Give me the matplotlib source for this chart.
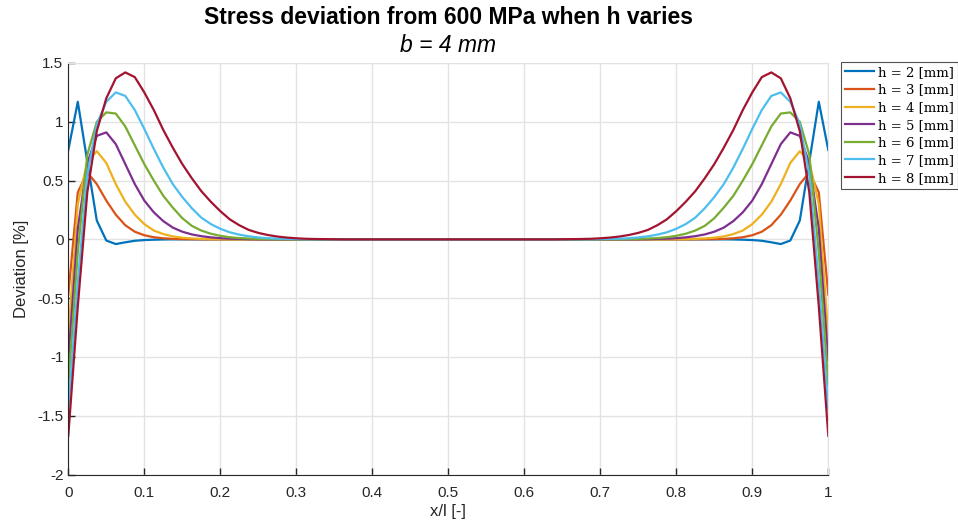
import matplotlib
matplotlib.use('Agg')
import matplotlib.pyplot as plt
import numpy as np

plt.rcParams['axes.unicode_minus'] = False
plt.rcParams['font.family'] = ['Liberation Sans', 'DejaVu Sans']

# x positions (81 points, step 0.0125)
x_pos = np.linspace(0, 1, 81)

labels = ['h = 2 [mm]', 'h = 3 [mm]', 'h = 4 [mm]', 'h = 5 [mm]',
          'h = 6 [mm]', 'h = 7 [mm]', 'h = 8 [mm]']
colors = ['#0072BD', '#D95319', '#EDB120', '#7E2F8E', '#77AC30', '#4DBEEE', '#A2142F']

dev_h2 = [0.76, 1.17, 0.66, 0.16, -0.01, -0.04, -0.025, -0.012, -0.006, -0.003,
          -0.001, 0, 0, 0, 0, 0, 0, 0, 0, 0,
          0, 0, 0, 0, 0, 0, 0, 0, 0, 0,
          0, 0, 0, 0, 0, 0, 0, 0, 0, 0,
          0,
          0, 0, 0, 0, 0, 0, 0, 0, 0, 0,
          0, 0, 0, 0, 0, 0, 0, 0, 0, 0,
          0, 0, 0, 0, 0, 0, 0, 0, 0, -0.001,
          -0.003, -0.006, -0.012, -0.025, -0.04, -0.01, 0.16, 0.66, 1.17, 0.76]

dev_h3 = [-0.47, 0.40, 0.57, 0.47, 0.33, 0.21, 0.12, 0.065, 0.035, 0.018,
          0.009, 0.004, 0.002, 0.001, 0, 0, 0, 0, 0, 0,
          0, 0, 0, 0, 0, 0, 0, 0, 0, 0,
          0, 0, 0, 0, 0, 0, 0, 0, 0, 0,
          0,
          0, 0, 0, 0, 0, 0, 0, 0, 0, 0,
          0, 0, 0, 0, 0, 0, 0, 0, 0, 0,
          0, 0, 0, 0, 0, 0, 0.001, 0.002, 0.004, 0.009,
          0.018, 0.035, 0.065, 0.12, 0.21, 0.33, 0.47, 0.57, 0.40, -0.47]

dev_h4 = [-0.82, 0.30, 0.66, 0.75, 0.65, 0.47, 0.32, 0.21, 0.13, 0.075,
          0.045, 0.025, 0.014, 0.008, 0.004, 0.002, 0.001, 0, 0, 0,
          0, 0, 0, 0, 0, 0, 0, 0, 0, 0,
          0, 0, 0, 0, 0, 0, 0, 0, 0, 0,
          0,
          0, 0, 0, 0, 0, 0, 0, 0, 0, 0,
          0, 0, 0, 0, 0, 0, 0, 0, 0, 0,
          0, 0, 0, 0.001, 0.002, 0.004, 0.008, 0.014, 0.025, 0.045,
          0.075, 0.13, 0.21, 0.32, 0.47, 0.65, 0.75, 0.66, 0.30, -0.82]

dev_h5 = [-1.03, 0.09, 0.65, 0.88, 0.91, 0.81, 0.64, 0.47, 0.33, 0.23,
          0.155, 0.10, 0.065, 0.042, 0.027, 0.017, 0.010, 0.006, 0.004, 0.002,
          0.001, 0, 0, 0, 0, 0, 0, 0, 0, 0,
          0, 0, 0, 0, 0, 0, 0, 0, 0, 0,
          0,
          0, 0, 0, 0, 0, 0, 0, 0, 0, 0,
          0, 0, 0, 0, 0, 0, 0, 0, 0, 0.001,
          0.002, 0.004, 0.006, 0.010, 0.017, 0.027, 0.042, 0.065, 0.10, 0.155,
          0.23, 0.33, 0.47, 0.64, 0.81, 0.91, 0.88, 0.65, 0.09, -1.03]

dev_h6 = [-1.24, -0.11, 0.72, 1.00, 1.08, 1.07, 0.96, 0.80, 0.64, 0.50,
          0.37, 0.27, 0.18, 0.115, 0.075, 0.048, 0.030, 0.018, 0.011, 0.007,
          0.004, 0.002, 0.001, 0, 0, 0, 0, 0, 0, 0,
          0, 0, 0, 0, 0, 0, 0, 0, 0, 0,
          0,
          0, 0, 0, 0, 0, 0, 0, 0, 0, 0,
          0, 0, 0, 0, 0, 0, 0, 0.001, 0.002, 0.004,
          0.007, 0.011, 0.018, 0.030, 0.048, 0.075, 0.115, 0.18, 0.27, 0.37,
          0.50, 0.64, 0.80, 0.96, 1.07, 1.08, 1.00, 0.72, -0.11, -1.24]

dev_h7 = [-1.45, -0.36, 0.55, 0.98, 1.17, 1.25, 1.22, 1.10, 0.94, 0.77,
          0.61, 0.47, 0.36, 0.265, 0.185, 0.13, 0.09, 0.06, 0.04, 0.026,
          0.016, 0.010, 0.006, 0.004, 0.002, 0.001, 0, 0, 0, 0,
          0, 0, 0, 0, 0, 0, 0, 0, 0, 0,
          0,
          0, 0, 0, 0, 0, 0, 0, 0, 0, 0,
          0, 0, 0, 0, 0.001, 0.002, 0.004, 0.006, 0.010, 0.016,
          0.026, 0.04, 0.06, 0.09, 0.13, 0.185, 0.265, 0.36, 0.47, 0.61,
          0.77, 0.94, 1.10, 1.22, 1.25, 1.17, 0.98, 0.55, -0.36, -1.45]

dev_h8 = [-1.67, -0.57, 0.40, 0.92, 1.20, 1.37, 1.42, 1.38, 1.25, 1.10,
          0.93, 0.78, 0.64, 0.52, 0.41, 0.32, 0.24, 0.17, 0.12, 0.08,
          0.055, 0.037, 0.024, 0.015, 0.009, 0.005, 0.003, 0.002, 0.001, 0,
          0, 0, 0, 0, 0, 0, 0, 0, 0, 0,
          0,
          0, 0, 0, 0, 0, 0, 0, 0, 0, 0,
          0, 0.001, 0.002, 0.003, 0.005, 0.009, 0.015, 0.024, 0.037, 0.055,
          0.08, 0.12, 0.17, 0.24, 0.32, 0.41, 0.52, 0.64, 0.78, 0.93,
          1.10, 1.25, 1.38, 1.42, 1.37, 1.20, 0.92, 0.40, -0.57, -1.67]

series = [dev_h2, dev_h3, dev_h4, dev_h5, dev_h6, dev_h7, dev_h8]

x_ticks = [0, 0.1, 0.2, 0.3, 0.4, 0.5, 0.6, 0.7, 0.8, 0.9, 1]
x_ticklabels = ['0', '0.1', '0.2', '0.3', '0.4', '0.5', '0.6', '0.7', '0.8', '0.9', '1']
y_ticks = [-2, -1.5, -1, -0.5, 0, 0.5, 1, 1.5]
y_ticklabels = ['-2', '-1.5', '-1', '-0.5', '0', '0.5', '1', '1.5']

fig = plt.figure(figsize=(9.58, 5.29), dpi=100)
ax = fig.add_axes([68.3 / 958, 1 - 474.5 / 529, 760 / 958, 411.5 / 529])

lines = []
for vals, col, lab in zip(series, colors, labels):
    ln, = ax.plot(x_pos, vals, color=col, linewidth=1.6, label=lab)
    lines.append(ln)

ax.set_xlim(0, 1)
ax.set_ylim(-2, 1.5)
ax.set_xticks(x_ticks)
ax.set_xticklabels(x_ticklabels)
ax.set_yticks(y_ticks)
ax.set_yticklabels(y_ticklabels)
ax.tick_params(direction='in', length=5, width=1, labelsize=11, colors='#262626')
ax.tick_params(axis='x', pad=8)
ax.grid(True, color='#e3e3e3', linewidth=1)
ax.set_axisbelow(True)
for s in ['top', 'right']:
    ax.spines[s].set_color('#e3e3e3')
for s in ['left', 'bottom']:
    ax.spines[s].set_color('#262626')

ax.set_xlabel('x/l [-]', fontsize=12, color='#262626', labelpad=3)
ax.set_ylabel('Deviation [%]', fontsize=12, color='#262626', labelpad=6)

fig.text(448 / 958, 1 - 17 / 529, 'Stress deviation from 600 MPa when h varies',
         ha='center', va='center', fontsize=16.5, fontweight='bold')
fig.text(448 / 958, 1 - 45 / 529, 'b = 4 mm', ha='center', va='center',
         fontsize=16.5, style='italic')

leg = fig.legend(handles=lines, loc='upper left',
                 bbox_to_anchor=(841 / 958, 1 - 62 / 529),
                 prop={'family': 'DejaVu Serif', 'size': 9.5},
                 frameon=True, fancybox=False, handlelength=2.2,
                 handletextpad=0.3, labelspacing=0.35, borderpad=0.3,
                 borderaxespad=0)
leg.get_frame().set_edgecolor('#262626')
leg.get_frame().set_linewidth(0.8)

fig.savefig('out.png', dpi=100)
